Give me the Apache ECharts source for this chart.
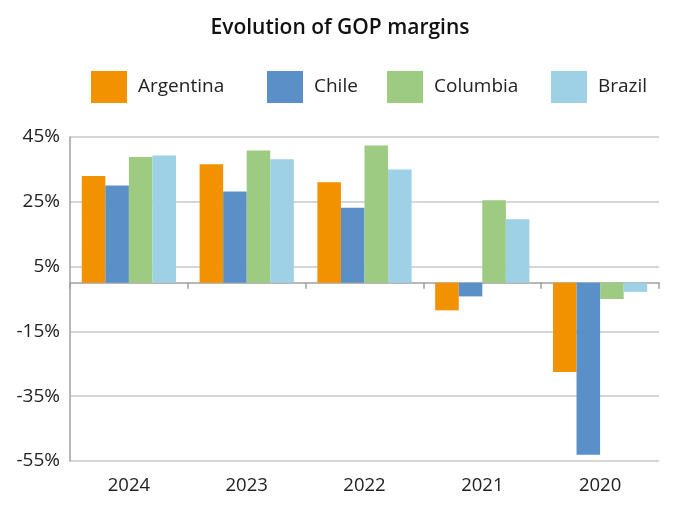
<!DOCTYPE html>
<html><head><meta charset="utf-8">
<script src="https://cdn.jsdelivr.net/npm/echarts@6/dist/echarts.min.js"></script>
<style>html,body{margin:0;padding:0;background:#fff}#c{width:680px;height:520px}</style>
</head><body><div id="c"></div>
<script>
const categories = ['2024','2023','2022','2021','2020'];
const argentina = [33.0, 36.6, 31.0, -8.5, -27.5];
const chile = [30.0, 28.2, 23.2, -4.2, -53.1];
const columbia = [38.8, 40.8, 42.4, 25.5, -5.0];
const brazil = [39.3, 38.1, 35.0, 19.6, -2.8];
const seriesNames = ['Argentina','Chile','Columbia','Brazil'];
const colors = ['#F39200','#5A8FC8','#9DCB82','#9ED1E6'];
const yTicks = [-55,-35,-15,5,25,45];
const legendLefts = [86, 262, 382, 546];

const font = '"Open Sans", "Noto Sans", sans-serif';
const chart = echarts.init(document.getElementById('c'));
const values = [argentina, chile, columbia, brazil];
chart.setOption({
  animation: false,
  textStyle: {fontFamily: font},
  title: {text: 'Evolution of GOP margins', left: 'center', top: 13,
    textStyle: {fontFamily: font, fontSize: 21, fontWeight: 600, color: '#111'}},
  legend: seriesNames.map((n, i) => ({
    top: 66, left: legendLefts[i], itemWidth: 36, itemHeight: 32, icon: 'rect',
    textStyle: {fontFamily: font, fontSize: 19, color: '#222', padding: [0,0,0,6]},
    data: [n]})),
  grid: {left: 70, right: 21, top: 137, bottom: 59},
  xAxis: [
    {type: 'category', data: categories, axisLine: {onZero: true, lineStyle: {color: '#a0a0a0', width: 1.5}},
     axisTick: {show: true, length: 6, lineStyle: {color: '#a0a0a0', width: 1.5}}, axisLabel: {show: false}},
    {type: 'category', data: categories, position: 'bottom', axisLine: {show: false, onZero: false},
     axisTick: {show: false}, axisLabel: {fontFamily: font, fontSize: 18.5, color: '#222', margin: 15}}
  ],
  yAxis: {type: 'value', min: yTicks[0], max: yTicks[yTicks.length-1], interval: 20,
    axisLine: {show: true, lineStyle: {color: '#a0a0a0', width: 1.5}}, axisTick: {show: false},
    splitLine: {lineStyle: {color: '#c8c8c8', width: 1.5}},
    axisLabel: {formatter: v => v + '%', fontFamily: font, fontSize: 19, color: '#222', margin: 10}},
  series: seriesNames.map((n, i) => ({
    name: n, type: 'bar', xAxisIndex: 0, data: values[i], barGap: '0%', barCategoryGap: '20%',
    itemStyle: {color: colors[i]}
  }))
});
</script></body></html>
